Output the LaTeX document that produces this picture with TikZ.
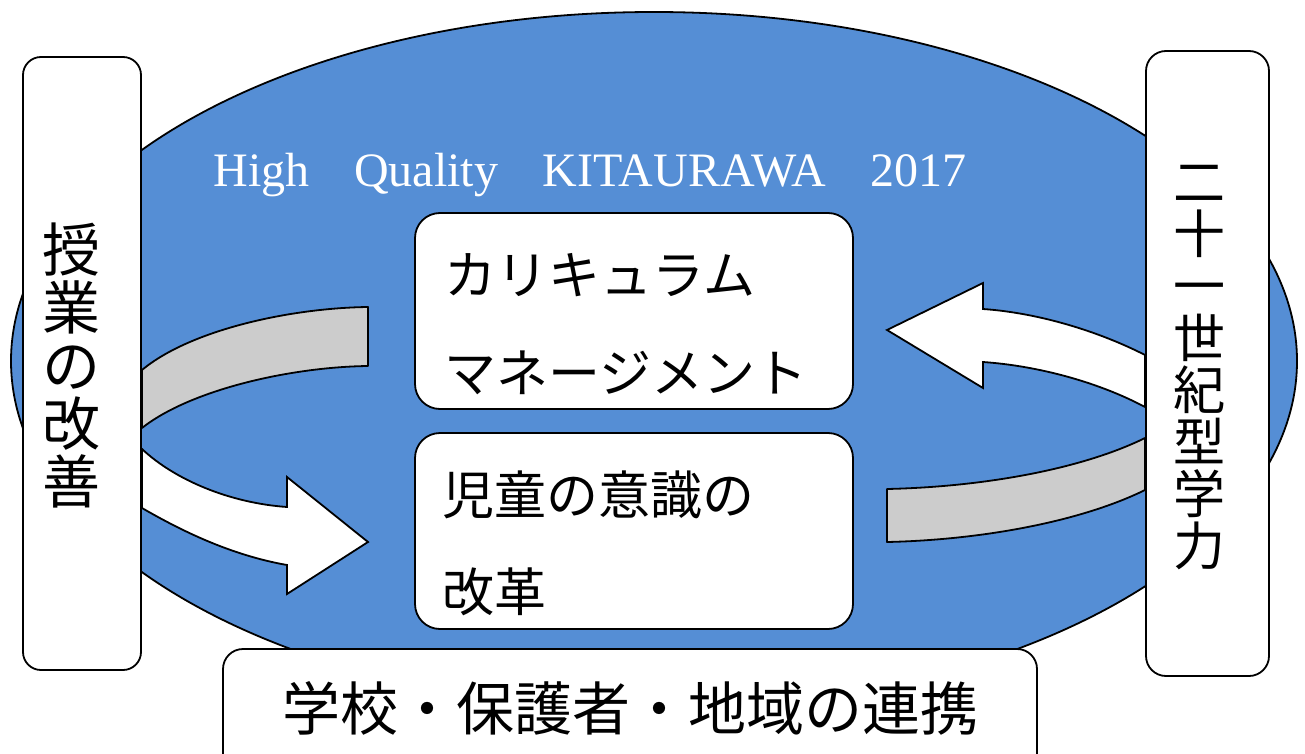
\documentclass[tikz,border=0pt]{standalone}
\usepackage{fontspec}
\newfontfamily\cjk{Noto Sans CJK JP}
\newfontfamily\titlefont{Liberation Serif}
\usetikzlibrary{shapes.geometric}
\definecolor{ellblue}{RGB}{85,142,213}
\definecolor{bandgray}{RGB}{204,204,204}
\begin{document}
\begin{tikzpicture}[x=0.5pt,y=-0.5pt, line width=0.9pt,
  box/.style={draw=black, fill=white, inner sep=0pt},
  band/.style={draw=black, fill=bandgray, line join=round},
  blockarrow/.style={draw=black, fill=white, line join=miter},
  jtext/.style={inner sep=0pt, text=black}]
\useasboundingbox (0,0) rectangle (1305,754);
\fill[white] (0,0) rectangle (1305,754);
% big oval
\node (oval) [ellipse, draw=black, fill=ellblue, inner sep=0pt,
  minimum width=643pt, minimum height=349pt] at (654,361) {};
% left curved arrow
\draw[band] (368,307) -- (368,366) .. controls (290,367) and (190,390) .. (142,428)
  -- (142,370) .. controls (190,330) and (290,308) .. (368,307) -- cycle;
\draw[blockarrow] (142,449) .. controls (175,480) and (230,503) .. (287,507)
  -- (287,477) -- (368,542) -- (287,594) -- (287,565)
  .. controls (230,555) and (180,530) .. (142,508) -- cycle;
% right curved arrow
\draw[band] (887,489) -- (887,542) .. controls (980,540) and (1080,522) .. (1145,490)
  -- (1145,438) .. controls (1080,470) and (980,487) .. (887,489) -- cycle;
\draw[blockarrow] (1145,355) .. controls (1100,332) and (1040,313) .. (983,309)
  -- (983,283) -- (887,330) -- (983,388) -- (983,362)
  .. controls (1040,366) and (1100,383) .. (1145,407) -- cycle;
% boxes
\node (left) [box, rounded corners=9pt, minimum width=59pt, minimum height=306.5pt] at (82,363.5) {};
\node (right) [box, rounded corners=10pt, minimum width=61.5pt, minimum height=312.5pt] at (1207.5,363.5) {};
\node (cm) [box, rounded corners=12.5pt, minimum width=219pt, minimum height=98pt] at (634,311) {};
\node (ji) [box, rounded corners=12.5pt, minimum width=219pt, minimum height=98pt] at (634,531) {};
\node (ren) [box, rounded corners=10pt, minimum width=407pt, minimum height=65.5pt] at (630,714.5) {};
% title
\node (title) [inner sep=0pt, text=white, anchor=base, font=\titlefont\fontsize{24}{24}\selectfont]
  at (590,187) {High\hspace{0.93em}Quality\hspace{0.93em}KITAURAWA\hspace{0.93em}2017};
% texts
\node (t1) [jtext, anchor=base west, font=\cjk\fontsize{26}{26}\selectfont] at (444,294) {カリキュラム};
\node (t2) [jtext, anchor=base west, font=\cjk\fontsize{26}{26}\selectfont] at (444,392) {マネージメント};
\node (t3) [jtext, anchor=base west, font=\cjk\fontsize{26}{26}\selectfont] at (442,514) {児童の意識の};
\node (t4) [jtext, anchor=base west, font=\cjk\fontsize{26}{26}\selectfont] at (442,611) {改革};
\node (t5) [jtext, anchor=base, font=\cjk\fontsize{29}{29}\selectfont] at (630,730) {学校・保護者・地域の連携};
\node (t6) [jtext, align=center, font=\cjk\fontsize{29}{29}\selectfont] at (71,365)
  {授\\業\\の\\改\\善};
\node (t7) [jtext, align=center, font=\cjk\fontsize{26}{26}\selectfont] at (1199,367.5)
  {二\\十\\一\\世\\紀\\型\\学\\力};
\end{tikzpicture}
\end{document}
